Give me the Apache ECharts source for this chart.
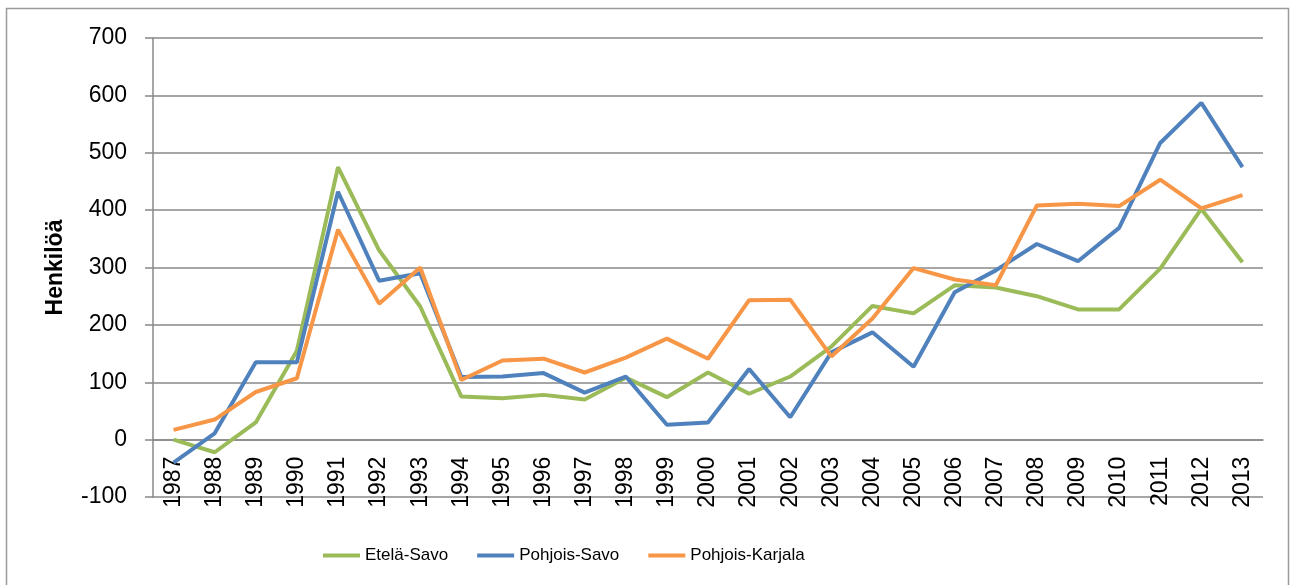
<!DOCTYPE html>
<html>
<head>
<meta charset="utf-8">
<script src="https://cdn.jsdelivr.net/npm/echarts@6/dist/echarts.min.js"></script>
<style>html,body{margin:0;padding:0;background:#fff;}#c{width:1291px;height:585px;}</style>
</head>
<body>
<div id="c"></div>
<script>
const years = ['1987','1988','1989','1990','1991','1992','1993','1994','1995','1996','1997','1998','1999','2000','2001','2002','2003','2004','2005','2006','2007','2008','2009','2010','2011','2012','2013'];
const etelaSavo = [0,-22,30,155,475,330,232,75,72,78,70,108,74,117,80,110,162,233,220,269,265,250,227,227,298,402,309];
const pohjoisSavo = [-40,11,135,135,432,277,290,109,110,116,82,110,26,30,123,39,152,187,127,257,295,341,311,369,517,587,475];
const pohjoisKarjala = [17,35,83,107,366,237,300,104,138,141,117,143,176,141,243,244,145,211,299,279,269,408,411,407,453,403,426];
const yTicks = {min:-100, max:700, interval:100};
const seriesNames = ['Etelä-Savo','Pohjois-Savo','Pohjois-Karjala'];
const colors = ['#9BBB59','#4F81BD','#F79646'];

const W = 1291, H = 585;
const gridTop = 38, gridBottom = 88;
const gridH = H - gridTop - gridBottom;
// move the category axis (line, ticks, labels) up to the value 0
const zeroOffset = -gridH * (0 - yTicks.min) / (yTicks.max - yTicks.min);

const chart = echarts.init(document.getElementById('c'));
const font = 'Liberation Sans';
chart.setOption({
  animation: false,
  color: colors,
  graphic: [{type:'rect', shape:{x:6.5,y:8.5,width:1282,height:600}, style:{fill:'none',stroke:'#9a9a9a',lineWidth:1.5}, silent:true, z:-1}],
  grid: {left:153, right:28, top:gridTop, bottom:gridBottom, containLabel:false},
  legend: {
    left: 318, top: 542,
    icon: 'rect', itemWidth: 37, itemHeight: 4, itemGap: 29,
    textStyle: {fontFamily: font, fontSize: 17, color: '#000'},
    data: seriesNames
  },
  xAxis: {
    type: 'category', data: years, boundaryGap: true, offset: zeroOffset,
    axisLine: {onZero: false, lineStyle: {color: '#888', width: 1.5}},
    axisTick: {length: 8, lineStyle: {color: '#888', width: 1.5}},
    axisLabel: {rotate: 90, margin: 17, fontFamily: font, fontSize: 23, color: '#000', interval: 0},
    splitLine: {show: false}
  },
  yAxis: {
    type: 'value', min: yTicks.min, max: yTicks.max, interval: yTicks.interval,
    name: 'Henkilöä', nameLocation: 'middle', nameRotate: 90, nameGap: 86,
    nameTextStyle: {fontFamily: font, fontSize: 23, fontWeight: 'bold', color: '#000'},
    axisLine: {show: true, lineStyle: {color: '#888', width: 1.5}},
    axisTick: {show: true, length: 8, lineStyle: {color: '#888', width: 1.5}},
    axisLabel: {margin: 26, fontFamily: font, fontSize: 23, color: '#000'},
    splitLine: {show: true, lineStyle: {color: '#888', width: 1.5}}
  },
  series: [
    {name: seriesNames[0], type: 'line', data: etelaSavo, symbol: 'none', lineStyle: {width: 4, color: colors[0]}, z: 2},
    {name: seriesNames[1], type: 'line', data: pohjoisSavo, symbol: 'none', lineStyle: {width: 4, color: colors[1]}, z: 3},
    {name: seriesNames[2], type: 'line', data: pohjoisKarjala, symbol: 'none', lineStyle: {width: 4, color: colors[2]}, z: 4}
  ]
});
</script>
</body>
</html>
